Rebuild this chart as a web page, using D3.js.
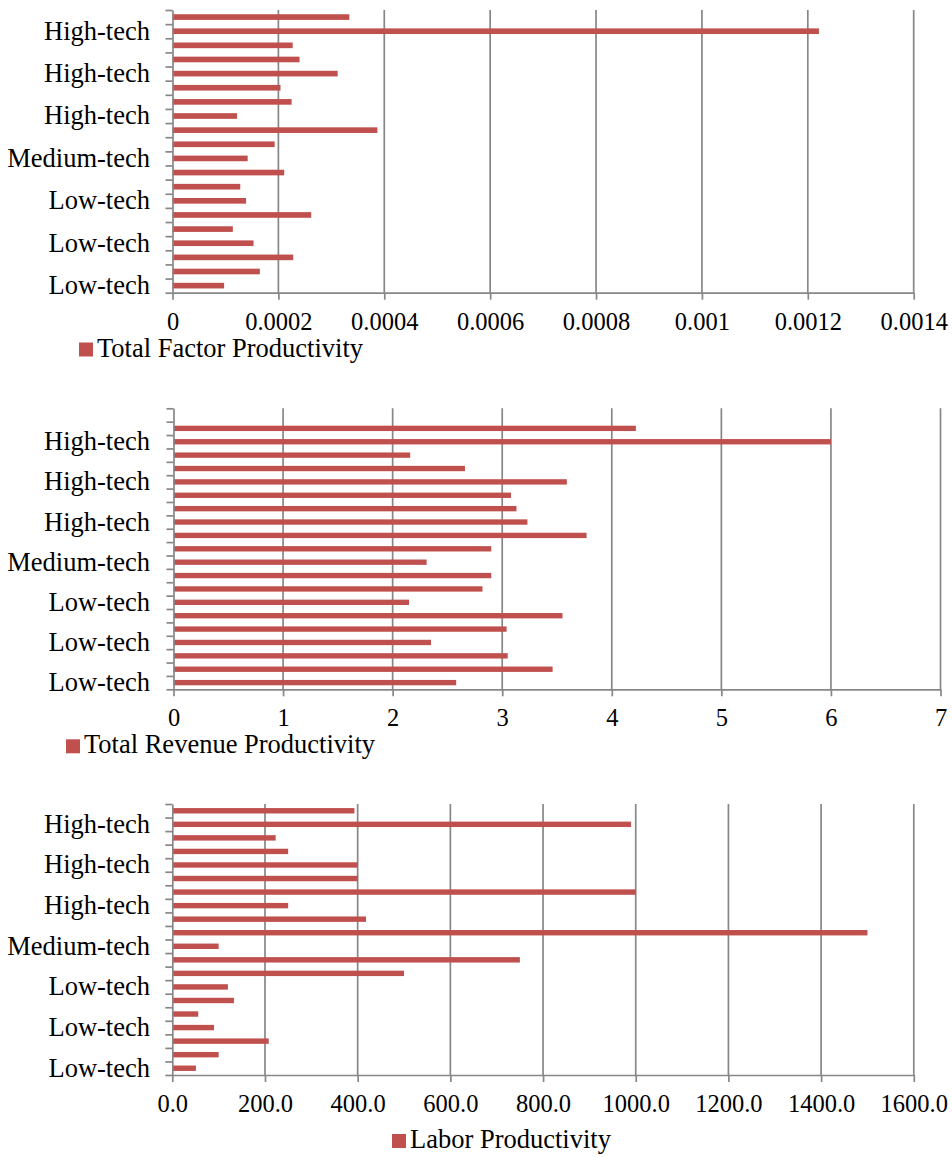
<!DOCTYPE html>
<html>
<head>
<meta charset="utf-8">
<script src="https://cdn.jsdelivr.net/npm/d3@7/dist/d3.min.js"></script>
<style>
  html, body { margin: 0; padding: 0; background: #fff; }
  svg { display: block; }
  text { font-family: "Liberation Serif", "Times New Roman", serif; fill: #000; }
</style>
</head>
<body>
<svg id="chart" width="952" height="1157"></svg>
<script>
// Sector technology level for each category, listed from the bottom of each chart upward.
const sectorTech = [
  "Low-tech", "Low-tech", "Low-tech", "Low-tech", "Low-tech", "Low-tech", "Low-tech",
  "Low-tech", "Low-tech", "Medium-tech", "Medium-tech", "Medium-tech", "High-tech",
  "High-tech", "High-tech", "High-tech", "High-tech", "High-tech", "High-tech", "High-tech"
];
// The revenue chart carries one extra (empty) category at the top.
const sectorTechRevenue = sectorTech.concat(["High-tech"]);

// Series values, bottom category first.
const tfpValues = [
  0.0000975, 0.000165, 0.000228, 0.000153, 0.000114, 0.000262, 0.000139, 0.000128, 0.000211, 0.000142,
  0.000193, 0.000387, 0.000122, 0.000225, 0.000204, 0.000312, 0.000240, 0.000227, 0.001221, 0.000334
];
const trpValues = [
  2.58, 3.46, 3.05, 2.35, 3.04, 3.55, 2.15, 2.82, 2.90, 2.31,
  2.90, 3.77, 3.23, 3.13, 3.08, 3.59, 2.66, 2.16, 6.0, 4.22, null
];
const laborValues = [
  51, 100, 208, 90, 56, 133, 120, 500, 750, 100,
  1500, 418, 250, 1000, 400, 400, 250, 223, 990, 393
];

// Axis ticks and their labels.
const tfpTicks = [0, 0.0002, 0.0004, 0.0006, 0.0008, 0.001, 0.0012, 0.0014];
const tfpTickLabels = ["0", "0.0002", "0.0004", "0.0006", "0.0008", "0.001", "0.0012", "0.0014"];
const trpTicks = [0, 1, 2, 3, 4, 5, 6, 7];
const trpTickLabels = ["0", "1", "2", "3", "4", "5", "6", "7"];
const laborTicks = [0, 200, 400, 600, 800, 1000, 1200, 1400, 1600];
const laborTickLabels = ["0.0", "200.0", "400.0", "600.0", "800.0", "1000.0", "1200.0", "1400.0", "1600.0"];

const seriesNames = ["Total Factor Productivity", "Total Revenue Productivity", "Labor Productivity"];

const BAR = "#C0504D";
const GRID = "#878787";
const labelEvery = 3;

const svg = d3.select("#chart");

function drawPanel(p) {
  const g = svg.append("g");
  const n = p.values.length;

  const x = d3.scaleLinear().domain([0, p.ticks[p.ticks.length - 1]]).range([p.left, p.right]);
  const y = d3.scaleBand().domain(d3.range(n)).range([p.bottom, p.top])
    .paddingInner(0.6).paddingOuter(0.3);
  const yEdge = d3.scaleLinear().domain([0, n]).range([p.bottom, p.top]);

  // vertical gridlines
  g.append("g")
    .selectAll("line")
    .data(p.ticks.slice(1))
    .join("line")
    .attr("x1", d => x(d)).attr("x2", d => x(d))
    .attr("y1", p.top).attr("y2", p.bottom)
    .attr("stroke", GRID).attr("stroke-width", 1.7);

  // bars
  g.append("g")
    .selectAll("rect")
    .data(p.values.map((v, i) => ({ v, i })).filter(d => d.v != null))
    .join("rect")
    .attr("x", x(0))
    .attr("y", d => y(d.i))
    .attr("width", d => x(d.v) - x(0))
    .attr("height", y.bandwidth())
    .attr("fill", BAR);

  // category axis: boundary ticks on the left
  const yAxis = g.append("g")
    .attr("transform", `translate(${x(0)},0)`)
    .call(d3.axisLeft(yEdge).tickValues(d3.range(n + 1)).tickSize(7).tickSizeOuter(0).tickFormat(""));
  yAxis.select(".domain").attr("stroke", GRID).attr("stroke-width", 1.7);
  yAxis.selectAll(".tick line").attr("stroke", GRID).attr("stroke-width", 1.7);

  // category labels, every third category
  g.append("g")
    .selectAll("text")
    .data(p.categories.map((c, i) => ({ c, i })).filter(d => d.i % labelEvery === 0))
    .join("text")
    .attr("x", 150)
    .attr("y", d => y(d.i) + y.bandwidth() / 2)
    .attr("dy", "0.32em")
    .attr("text-anchor", "end")
    .attr("font-size", 26.5)
    .text(d => d.c);

  // value axis
  const xAxis = g.append("g")
    .attr("transform", `translate(0,${p.bottom})`)
    .call(d3.axisBottom(x).tickValues(p.ticks).tickSize(7).tickSizeOuter(0)
      .tickFormat((d, i) => p.tickLabels[i]));
  xAxis.select(".domain").attr("stroke", GRID).attr("stroke-width", 1.7);
  xAxis.selectAll(".tick line").attr("stroke", GRID).attr("stroke-width", 1.7);
  xAxis.selectAll(".tick text")
    .attr("y", 37).attr("dy", 0)
    .attr("font-size", 24.5)
    .attr("fill", "#000");

  // legend
  const lg = g.append("g").attr("transform", `translate(${p.legendX},${p.legendBaseline})`);
  lg.append("rect").attr("x", 0).attr("y", -14).attr("width", 14).attr("height", 14).attr("fill", BAR);
  lg.append("text").attr("x", 18).attr("y", 0).attr("font-size", 26.5).text(p.name);
}

drawPanel({
  values: tfpValues, categories: sectorTech, ticks: tfpTicks, tickLabels: tfpTickLabels,
  left: 172.5, right: 913.7, top: 10, bottom: 292.7,
  name: seriesNames[0], legendX: 79, legendBaseline: 356.5
});
drawPanel({
  values: trpValues, categories: sectorTechRevenue, ticks: trpTicks, tickLabels: trpTickLabels,
  left: 173.5, right: 940.5, top: 408.3, bottom: 689.3,
  name: seriesNames[1], legendX: 66, legendBaseline: 753.3
});
drawPanel({
  values: laborValues, categories: sectorTech, ticks: laborTicks, tickLabels: laborTickLabels,
  left: 172.3, right: 913.8, top: 804, bottom: 1075,
  name: seriesNames[2], legendX: 392, legendBaseline: 1148
});
</script>
</body>
</html>
